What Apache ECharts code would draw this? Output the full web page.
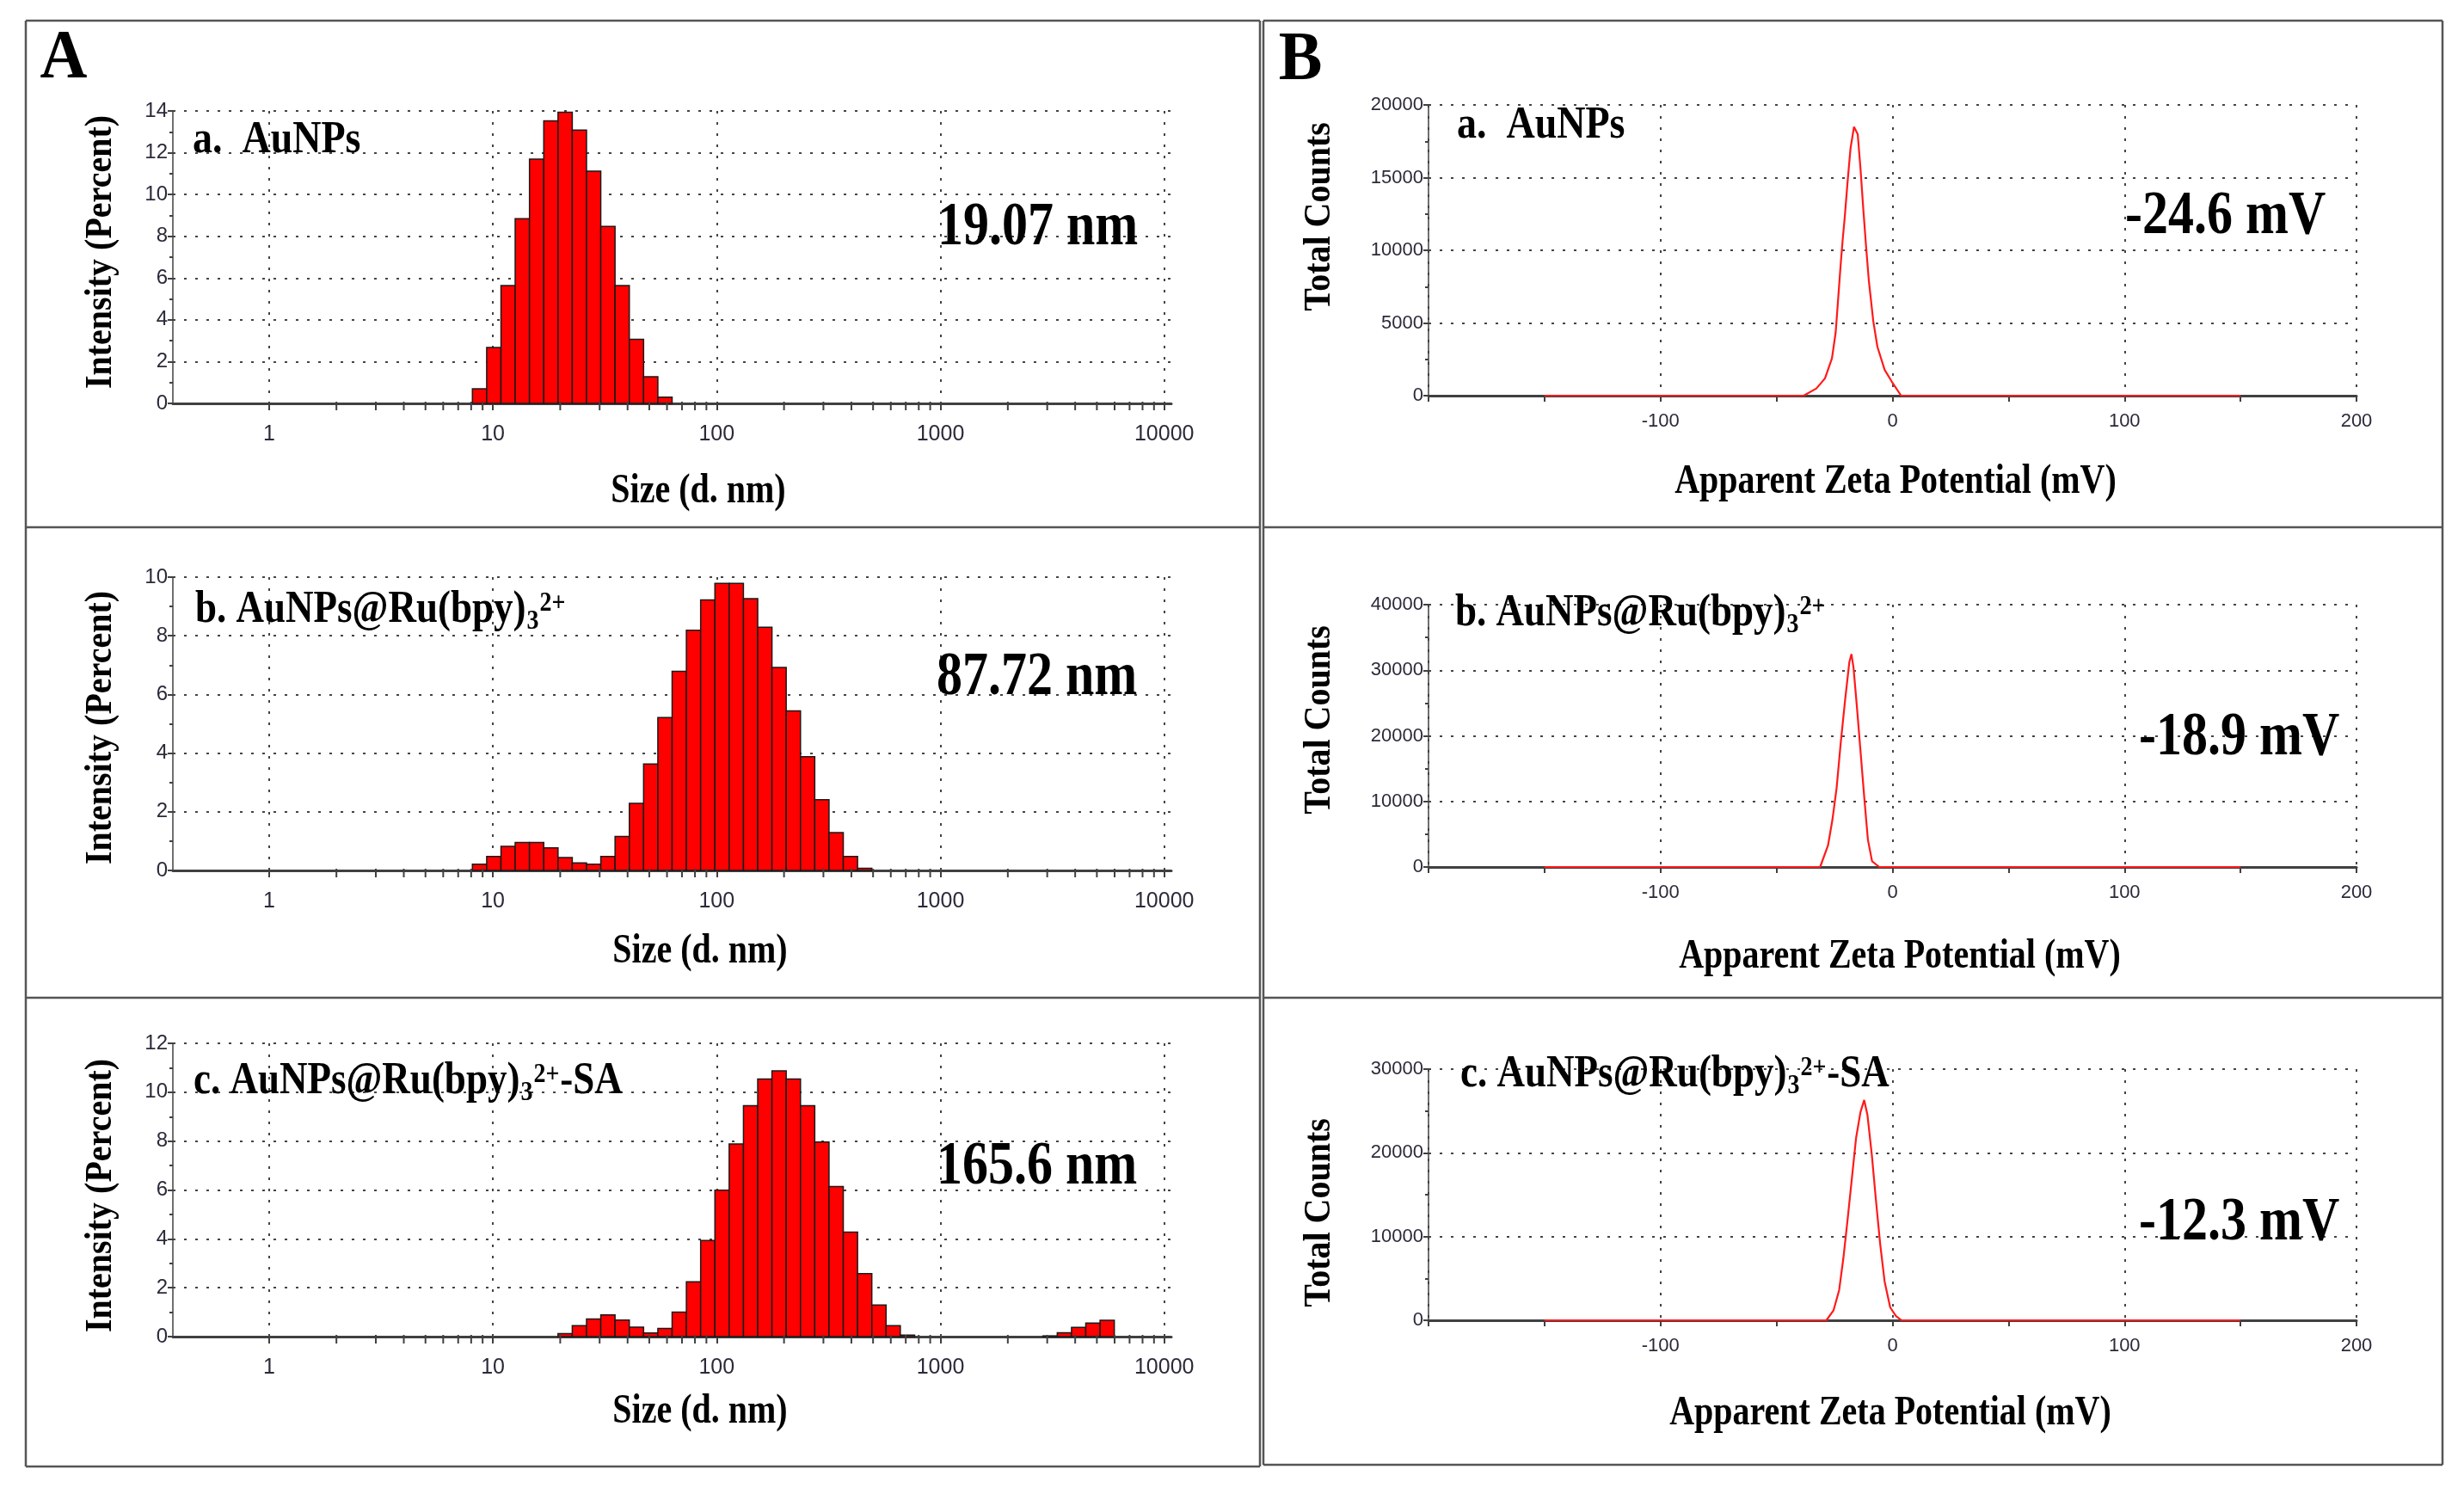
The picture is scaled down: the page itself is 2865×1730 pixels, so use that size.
<!DOCTYPE html>
<html>
<head>
<meta charset="utf-8">
<script src="https://cdn.jsdelivr.net/npm/echarts@6/dist/echarts.min.js"></script>
<style>
  html, body { margin: 0; padding: 0; background: #fff; }
  #main { width: 2865px; height: 1730px; }
</style>
</head>
<body>
<div id="main"></div>
<script>
// size classes of the instrument (d. nm), bars are centred on them
var sizeClasses = [0.4, 0.4632, 0.5365, 0.6213, 0.7195, 0.8332, 0.9649, 1.117, 1.294, 1.499,
  1.736, 2.010, 2.328, 2.696, 3.122, 3.615, 4.187, 4.849, 5.615, 6.503,
  7.531, 8.721, 10.10, 11.70, 13.54, 15.69, 18.17, 21.04, 24.36, 28.21,
  32.67, 37.84, 43.82, 50.75, 58.77, 68.06, 78.82, 91.28, 105.7, 122.4,
  141.8, 164.2, 190.1, 220.2, 255.0, 295.3, 342.0, 396.1, 458.7, 531.2,
  615.1, 712.4, 825.0, 955.4, 1106, 1281, 1484, 1718, 1990, 2305,
  2669, 3091, 3580, 4145, 4801, 5560, 6439, 7456, 8635, 10000];

// intensity (percent), first value belongs to sizeClasses[start]
var aunpsStart = 21;
var aunpsIntensity = [0.70, 2.68, 5.64, 8.84, 11.69, 13.53, 13.94, 13.08, 11.12, 8.47, 5.64, 3.07, 1.28, 0.30];

var ruStart = 21;
var ruIntensity = [0.21, 0.48, 0.82, 0.95, 0.95, 0.77, 0.44, 0.26, 0.21, 0.48, 1.16, 2.29, 3.63, 5.21,
  6.79, 8.19, 9.22, 9.79, 9.79, 9.27, 8.29, 6.92, 5.44, 3.88, 2.41, 1.29, 0.48, 0.07];

var saStart = 27;
var saIntensity = [0.12, 0.45, 0.72, 0.89, 0.68, 0.39, 0.15, 0.33, 1.00, 2.24, 3.93, 5.99, 7.88,
  9.45, 10.54, 10.87, 10.54, 9.45, 7.96, 6.14, 4.28, 2.58, 1.29, 0.45, 0.06];
var saTailStart = 61;
var saTailIntensity = [0.03, 0.16, 0.38, 0.55, 0.67];

var sizeTicks = [1, 10, 100, 1000, 10000];
var sizeMinorTicks = [2, 3, 4, 5, 6, 7, 8, 9, 20, 30, 40, 50, 60, 70, 80, 90,
  200, 300, 400, 500, 600, 700, 800, 900, 2000, 3000, 4000, 5000, 6000, 7000, 8000, 9000];

// zeta potential distributions [mV, total counts]
var aunpsZeta = [[-150, 0], [-38.3, 0], [-32.8, 494], [-29.1, 1190], [-26.1, 2570], [-24.5, 4350],
  [-23.4, 6720], [-22.4, 8900], [-21.5, 10680], [-20.6, 12260], [-19.3, 14830], [-18.1, 17000],
  [-16.6, 18490], [-16.2, 18600], [-15.0, 17990], [-13.8, 15620], [-12.6, 12850], [-11.4, 10280],
  [-10.2, 7900], [-8.3, 5140], [-6.5, 3360], [-3.4, 1780], [-0.4, 990], [3.7, 0], [150, 0]];

var ruZeta = [[-150, 0], [-31.2, 0], [-27.8, 3280], [-25.9, 7210], [-24.1, 12020], [-22.3, 19010],
  [-20.4, 25560], [-18.6, 31250], [-17.7, 32470], [-16.8, 30370], [-15.3, 24250], [-13.7, 17260],
  [-12.1, 10270], [-10.6, 4150], [-8.8, 870], [-5.7, 0], [150, 0]];

var saZeta = [[-150, 0], [-28.5, 0], [-25.4, 1200], [-23.0, 3600], [-21.2, 7370], [-19.3, 12180],
  [-17.5, 16980], [-15.7, 21780], [-13.8, 24870], [-12.2, 26310], [-10.8, 24520], [-8.9, 19720],
  [-7.1, 14230], [-5.3, 9090], [-3.4, 4630], [-1.0, 1540], [1.5, 510], [3.9, 0], [150, 0]];

var SERIF = '"Liberation Serif", "Times New Roman", serif';
var SANS = '"Liberation Sans", Arial, sans-serif';
var AXIS_COLOR = '#404040';
var GRID_LINE = { color: '#444', width: 2, type: [3, 10] };

// half a class step (ratio), so each bar spans its class
var binHalf = Math.sqrt(sizeClasses[1] / sizeClasses[0]);
var sizeMin = sizeClasses[0] / binHalf;
var sizeMax = sizeClasses[sizeClasses.length - 1] * binHalf;

function bins(start, values) {
  return values.map(function (v, i) { return [sizeClasses[start + i], v]; });
}

function renderBar(params, api) {
  var s = api.value(0);
  var lo = api.coord([s / binHalf, api.value(1)]);
  var hi = api.coord([s * binHalf, 0]);
  return {
    type: 'rect',
    shape: { x: lo[0], y: lo[1], width: hi[0] - lo[0], height: hi[1] - lo[1] },
    style: { fill: '#ff0000', stroke: '#1a1a1a', lineWidth: 1.5 }
  };
}

function renderMinorTick(params, api) {
  var p = api.coord([api.value(0), 0]);
  return {
    type: 'line',
    shape: { x1: p[0], y1: p[1] - 2, x2: p[0], y2: p[1] + 8 },
    style: { stroke: AXIS_COLOR, lineWidth: 2 }
  };
}

var grids = [
  { left: 201, top: 129, width: 1161, height: 340 },
  { left: 201, top: 671, width: 1161, height: 341 },
  { left: 201, top: 1213, width: 1161, height: 341 },
  { left: 1661, top: 122, width: 1079, height: 338 },
  { left: 1661, top: 703, width: 1079, height: 305 },
  { left: 1661, top: 1243, width: 1079, height: 292 }
];

function sizeAxis(i) {
  return {
    type: 'log', gridIndex: i, min: sizeMin, max: sizeMax, logBase: 10,
    axisLine: { show: true, onZero: false, lineStyle: { color: AXIS_COLOR, width: 3 } },
    axisTick: { show: true, length: 8, lineStyle: { color: AXIS_COLOR, width: 2 } },
    axisLabel: {
      margin: 24, fontSize: 25, fontFamily: SANS, color: '#2a2a3a',
      showMinLabel: false, showMaxLabel: false,
      formatter: function (v) {
        var r = Math.round(v);
        return sizeTicks.indexOf(r) >= 0 && Math.abs(v - r) < 1e-6 * r ? String(r) : '';
      }
    },
    splitLine: { show: true, showMinLine: false, showMaxLine: false, lineStyle: GRID_LINE }
  };
}

function zetaAxis(i) {
  return {
    type: 'value', gridIndex: i, min: -200, max: 200, interval: 100,
    axisLine: { show: true, onZero: false, lineStyle: { color: AXIS_COLOR, width: 3 } },
    axisTick: { show: true, length: 7, lineStyle: { color: AXIS_COLOR, width: 2 } },
    minorTick: { show: true, splitNumber: 2, length: 7, lineStyle: { color: AXIS_COLOR, width: 2 } },
    axisLabel: {
      margin: 19, fontSize: 22, fontFamily: SANS, color: '#2a2a3a', showMinLabel: false,
      formatter: function (v) { return String(v); }
    },
    splitLine: { show: true, lineStyle: GRID_LINE }
  };
}

function countAxis(i, max, interval, fontSize) {
  return {
    type: 'value', gridIndex: i, min: 0, max: max, interval: interval,
    axisLine: { show: true, onZero: false, lineStyle: { color: AXIS_COLOR, width: 1.5 } },
    axisTick: { show: true, length: 6, lineStyle: { color: AXIS_COLOR, width: 2 } },
    minorTick: { show: true, splitNumber: 2, length: 4, lineStyle: { color: AXIS_COLOR, width: 2 } },
    axisLabel: {
      margin: 6, fontSize: fontSize, fontFamily: SANS, color: '#2a2a3a',
      formatter: function (v) { return String(v); }
    },
    splitLine: { show: true, lineStyle: GRID_LINE }
  };
}

function histSeries(i, data) {
  return { type: 'custom', xAxisIndex: i, yAxisIndex: i, renderItem: renderBar, data: data, silent: true, z: 2 };
}

function minorSeries(i) {
  return {
    type: 'custom', xAxisIndex: i, yAxisIndex: i, renderItem: renderMinorTick, clip: false,
    data: sizeMinorTicks.map(function (v) { return [v, 0]; }), silent: true, z: 3
  };
}

function zetaSeries(i, data) {
  return {
    type: 'line', xAxisIndex: i, yAxisIndex: i, data: data, symbol: 'none', silent: true, z: 4,
    lineStyle: { color: '#ff1a1a', width: 2.2 }
  };
}

// text helpers
var measureCtx = document.createElement('canvas').getContext('2d');
function textWidth(t, size) {
  measureCtx.font = 'bold ' + size + 'px ' + SERIF;
  return measureCtx.measureText(t).width;
}

function txt(x, y, t, size, opts) {
  opts = opts || {};
  var align = opts.align || 'left';
  return {
    type: 'text', x: x, y: y, rotation: opts.rotation || 0, scaleY: opts.scaleY || 1.15, z: 100,
    style: {
      text: t, fontFamily: opts.family || SERIF, fontWeight: 'bold', fontSize: size, fill: '#000',
      align: align, verticalAlign: 'middle', textAlign: align, textVerticalAlign: 'middle'
    }
  };
}

function chemLabel(x, y, main, tail) {
  var els = [];
  var w = textWidth(main, 45);
  els.push(txt(x, y, main, 45));
  var xs = x + w + 1;
  els.push(txt(xs, y + 13, '3', 28));
  xs += textWidth('3', 28) + 1;
  els.push(txt(xs, y - 8, '2+', 28));
  xs += textWidth('2+', 28) + 1;
  if (tail) els.push(txt(xs, y, tail, 45));
  return els;
}

function line(x1, y1, x2, y2) {
  return { type: 'line', z: 90, shape: { x1: x1, y1: y1, x2: x2, y2: y2 }, style: { stroke: '#555', lineWidth: 2.5 } };
}

var graphics = [
  line(30, 24, 1465, 24), line(30, 1705, 1465, 1705), line(30, 24, 30, 1705), line(1465, 24, 1465, 1705),
  line(1469, 24, 2840, 24), line(1469, 1703, 2840, 1703), line(1469, 24, 1469, 1703), line(2840, 24, 2840, 1703),
  line(30, 613, 1465, 613), line(1469, 613, 2840, 613),
  line(30, 1160, 1465, 1160), line(1469, 1160, 2840, 1160),

  txt(74, 69, 'A', 76, { align: 'center', scaleY: 1.05 }),
  txt(1512, 71, 'B', 76, { align: 'center', scaleY: 1.05 }),

  txt(224, 163, 'a.  AuNPs', 46),
  txt(1694, 146, 'a.  AuNPs', 46),

  txt(1090, 265, '19.07 nm', 60, { scaleY: 1.2 }),
  txt(1089, 788, '87.72 nm', 60, { scaleY: 1.2 }),
  txt(1089, 1357, '165.6 nm', 60, { scaleY: 1.2 }),
  txt(2471, 252, '-24.6 mV', 60, { scaleY: 1.2 }),
  txt(2487, 858, '-18.9 mV', 60, { scaleY: 1.2 }),
  txt(2487, 1422, '-12.3 mV', 60, { scaleY: 1.2 }),

  txt(812, 572, 'Size (d. nm)', 40, { align: 'center', scaleY: 1.2 }),
  txt(814, 1107, 'Size (d. nm)', 40, { align: 'center', scaleY: 1.2 }),
  txt(814, 1642, 'Size (d. nm)', 40, { align: 'center', scaleY: 1.2 }),
  txt(2204, 561, 'Apparent Zeta Potential (mV)', 40, { align: 'center', scaleY: 1.2 }),
  txt(2209, 1113, 'Apparent Zeta Potential (mV)', 40, { align: 'center', scaleY: 1.2 }),
  txt(2198, 1644, 'Apparent Zeta Potential (mV)', 40, { align: 'center', scaleY: 1.2 }),

  txt(118, 293, 'Intensity (Percent)', 40, { align: 'center', rotation: Math.PI / 2, scaleY: 1.1 }),
  txt(118, 846, 'Intensity (Percent)', 40, { align: 'center', rotation: Math.PI / 2, scaleY: 1.1 }),
  txt(118, 1390, 'Intensity (Percent)', 40, { align: 'center', rotation: Math.PI / 2, scaleY: 1.1 }),
  txt(1535, 252, 'Total Counts', 40, { align: 'center', rotation: Math.PI / 2, scaleY: 1.1 }),
  txt(1535, 837, 'Total Counts', 40, { align: 'center', rotation: Math.PI / 2, scaleY: 1.1 }),
  txt(1535, 1410, 'Total Counts', 40, { align: 'center', rotation: Math.PI / 2, scaleY: 1.1 })
]
  .concat(chemLabel(227, 710, 'b. AuNPs@Ru(bpy)', ''))
  .concat(chemLabel(225, 1258, 'c. AuNPs@Ru(bpy)', '-SA'))
  .concat(chemLabel(1692, 714, 'b. AuNPs@Ru(bpy)', ''))
  .concat(chemLabel(1698, 1250, 'c. AuNPs@Ru(bpy)', '-SA'));

var myChart = echarts.init(document.getElementById('main'), null, { renderer: 'canvas' });
var option = {
  animation: false,
  backgroundColor: '#fff',
  grid: grids,
  xAxis: [sizeAxis(0), sizeAxis(1), sizeAxis(2), zetaAxis(3), zetaAxis(4), zetaAxis(5)],
  yAxis: [
    countAxis(0, 14, 2, 24), countAxis(1, 10, 2, 24), countAxis(2, 12, 2, 24),
    countAxis(3, 20000, 5000, 22), countAxis(4, 40000, 10000, 22), countAxis(5, 30000, 10000, 22)
  ],
  series: [
    histSeries(0, bins(aunpsStart, aunpsIntensity)),
    histSeries(1, bins(ruStart, ruIntensity)),
    histSeries(2, bins(saStart, saIntensity).concat(bins(saTailStart, saTailIntensity))),
    minorSeries(0), minorSeries(1), minorSeries(2),
    zetaSeries(3, aunpsZeta),
    zetaSeries(4, ruZeta),
    zetaSeries(5, saZeta)
  ],
  graphic: { elements: graphics }
};
myChart.setOption(option);
</script>
</body>
</html>
